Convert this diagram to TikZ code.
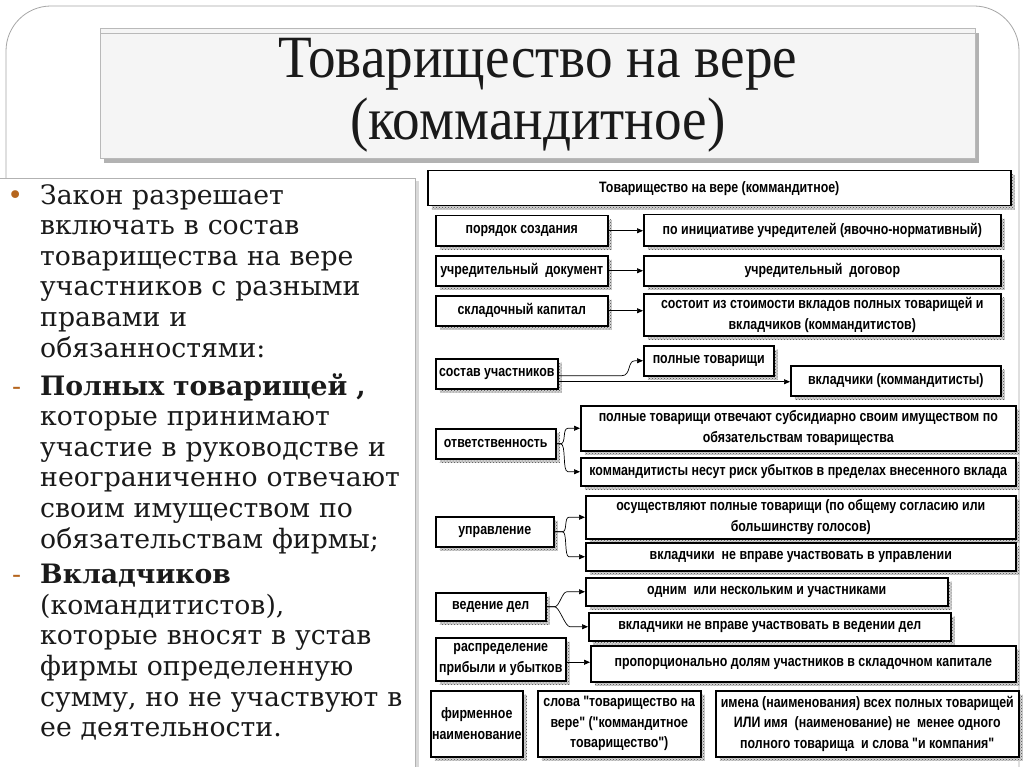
\documentclass[tikz,border=0pt]{standalone}
\usepackage{fontspec}
\setmainfont{DejaVu Serif}
\newfontfamily\boxfont[FakeStretch=0.82]{Liberation Sans}
\newfontfamily\titlefont[FakeStretch=0.92]{Liberation Serif}
\usetikzlibrary{arrows.meta,shadows,patterns}
\definecolor{bulletcol}{HTML}{B5651D}
\definecolor{txtcol}{HTML}{1A1A1A}
\newcommand\dbx[6]{\node[dbox, minimum width=#4pt, minimum height=#5pt] (#1) at (#2,#3) {#6};}
\begin{document}
\begin{tikzpicture}[x=1pt,y=-1pt,
  dbox/.style={draw=black, line width=1.5pt, fill=white, align=center, inner sep=1pt,
    anchor=north west, font=\boxfont\bfseries\fontsize{15.1}{20.5}\selectfont,
    drop shadow={shadow xshift=4pt, shadow yshift=-4pt, fill=black!18, opacity=1,
      postaction={pattern=crosshatch dots, pattern color=black!70}}},
  arr/.style={-{Triangle[length=6pt,width=5pt]}, line width=0.7pt},
  para/.style={anchor=north west, align=left, text width=380pt, inner sep=0pt,
    text=txtcol, font=\fontsize{26.7}{30.6}\selectfont}]
\useasboundingbox (0,0) rectangle (1024,767);
\fill[white] (0,0) rectangle (1024,767);
% outer frame
\begin{scope}
\clip (0,0) rectangle (1024,767);
\draw[gray!70, line width=0.8pt, rounded corners=45pt] (6,6) rectangle (1019,820);
\end{scope}
% title box
\fill[black!30] (104,33) rectangle (979,163);
\fill[gray!8] (100,28) rectangle (975,158);
\draw[gray!55, line width=0.6pt] (100,28) rectangle (975,158);
\draw[gray!55, line width=0.6pt] (100,33) -- (975,33);
\node[font=\titlefont\fontsize{60}{62}\selectfont, align=center, text=txtcol] (title) at (538,95)
  {Товарищество на вере\\(коммандитное)};
% left text box
\fill[black!15] (0,181) rectangle (419,767);
\fill[white] (0,178) rectangle (415,767);
\draw[gray!60, line width=0.7pt] (0,178) -- (415,178) -- (415,767);
\node[para] (p1) at (40,184) {\llap{\textcolor{bulletcol}{•}\hspace{17pt}}Закон разрешает\\
включать в состав\\товарищества на вере\\участников с разными\\правами и\\обязанностями:};
\node[para] (p2) at (40,373) {\llap{\textcolor{bulletcol}{-}\hspace{19pt}}\textbf{Полных товарищей ,}\\
которые принимают\\участие в руководстве и\\неограниченно отвечают\\своим имуществом по\\обязательствам фирмы;};
\node[para] (p3) at (40,564) {\llap{\textcolor{bulletcol}{-}\hspace{19pt}}\textbf{Вкладчиков}\\
(командитистов),\\которые вносят в устав\\фирмы определенную\\сумму, но не участвуют в\\ее деятельности.};
% diagram boxes
\dbx{top}{427}{170}{583}{35}{Товарищество на вере (коммандитное)}
\dbx{a1}{435}{215}{172}{30}{порядок создания}
\dbx{b1}{643}{214}{357}{31}{по инициативе учредителей (явочно-нормативный)}
\dbx{a2}{435}{255}{172}{30}{учредительный\ \ документ}
\dbx{b2}{643}{255}{357}{30}{учредительный\ \ договор}
\dbx{a3}{435}{295}{172}{30}{складочный капитал}
\dbx{b3}{643}{293}{357}{42}{состоит из стоимости вкладов полных товарищей и\\вкладчиков (коммандитистов)}
\dbx{a4}{435}{358}{122}{30}{состав участников}
\dbx{b4a}{643}{345}{130}{30}{полные товарищи}
\dbx{b4b}{790}{365}{210}{30}{вкладчики (коммандитисты)}
\dbx{a5}{435}{428}{120}{30}{ответственность}
\dbx{b5a}{580}{405}{435}{45}{полные товарищи отвечают субсидиарно своим имуществом по\\обязательствам товарищества}
\dbx{b5b}{580}{457}{435}{28}{коммандитисты несут риск убытков в пределах внесенного вклада}
\dbx{a6}{435}{516}{118}{30}{управление}
\dbx{b6a}{585}{495}{430}{43}{осуществляют полные товарищи (по общему согласию или\\большинству голосов)}
\dbx{b6b}{585}{542}{430}{28}{вкладчики\ \ не вправе участвовать в управлении}
\dbx{a7}{435}{592}{110}{28}{ведение дел}
\dbx{b7a}{585}{577}{362}{28}{одним\ \ или нескольким и участниками}
\dbx{b7b}{588}{612}{362}{28}{вкладчики не вправе участвовать в ведении дел}
\dbx{a8}{435}{637}{130}{43}{распределение\\прибыли и убытков}
\dbx{b8}{590}{645}{425}{36}{пропорционально долям участников в складочном капитале}
\dbx{a9}{430}{690}{92}{66}{фирменное\\наименование}
\dbx{b9a}{537}{690}{163}{66}{слова "товарищество на\\вере" ("коммандитное\\товарищество")}
\dbx{b9b}{715}{690}{303}{66}{имена (наименования) всех полных товарищей\\ИЛИ имя\ \ (наименование) не\ \ менее одного\\полного товарища\ \ и слова "и компания"}
% connectors
\draw[arr] (a1.east) -- (a1.east -| b1.west);
\draw[arr] (a2.east) -- (a2.east -| b2.west);
\draw[arr] (a3.east) -- (a3.east -| b3.west);
\draw[arr] ([yshift=-2pt]a4.east) -- ++(63,0) .. controls +(10,0) and +(-8,0) .. ([xshift=-8pt]b4a.west) -- (b4a.west);
\draw[arr] ([yshift=-8pt]a4.east) -- ([yshift=-8pt]a4.east -| b4b.west);
\draw[arr] (a5.east) -- ++(4,0) .. controls +(6,0) and +(-6,0) .. ([xshift=-12pt]b5a.west) -- (b5a.west);
\draw[arr] (a5.east) -- ++(4,0) .. controls +(6,0) and +(-6,0) .. ([xshift=-12pt]b5b.west) -- (b5b.west);
\draw[arr] (a6.east) -- ++(8,0) .. controls +(5,0) and +(-5,0) .. ([xshift=-16pt]b6a.west) -- (b6a.west);
\draw[arr] (a6.east) -- ++(8,0) .. controls +(5,0) and +(-5,0) .. ([xshift=-16pt]b6b.west) -- (b6b.west);
\draw[arr] (a7.east) -- ++(8,0) .. controls +(5,0) and +(-5,0) .. ([xshift=-18pt]b7a.west) -- (b7a.west);
\draw[arr] (a7.east) -- ++(8,0) .. controls +(5,0) and +(-5,0) .. ([xshift=-18pt]b7b.west) -- (b7b.west);
\draw[arr] ([yshift=-3pt]a8.east) -- ([yshift=-3pt]a8.east -| b8.west);
\end{tikzpicture}
\end{document}
